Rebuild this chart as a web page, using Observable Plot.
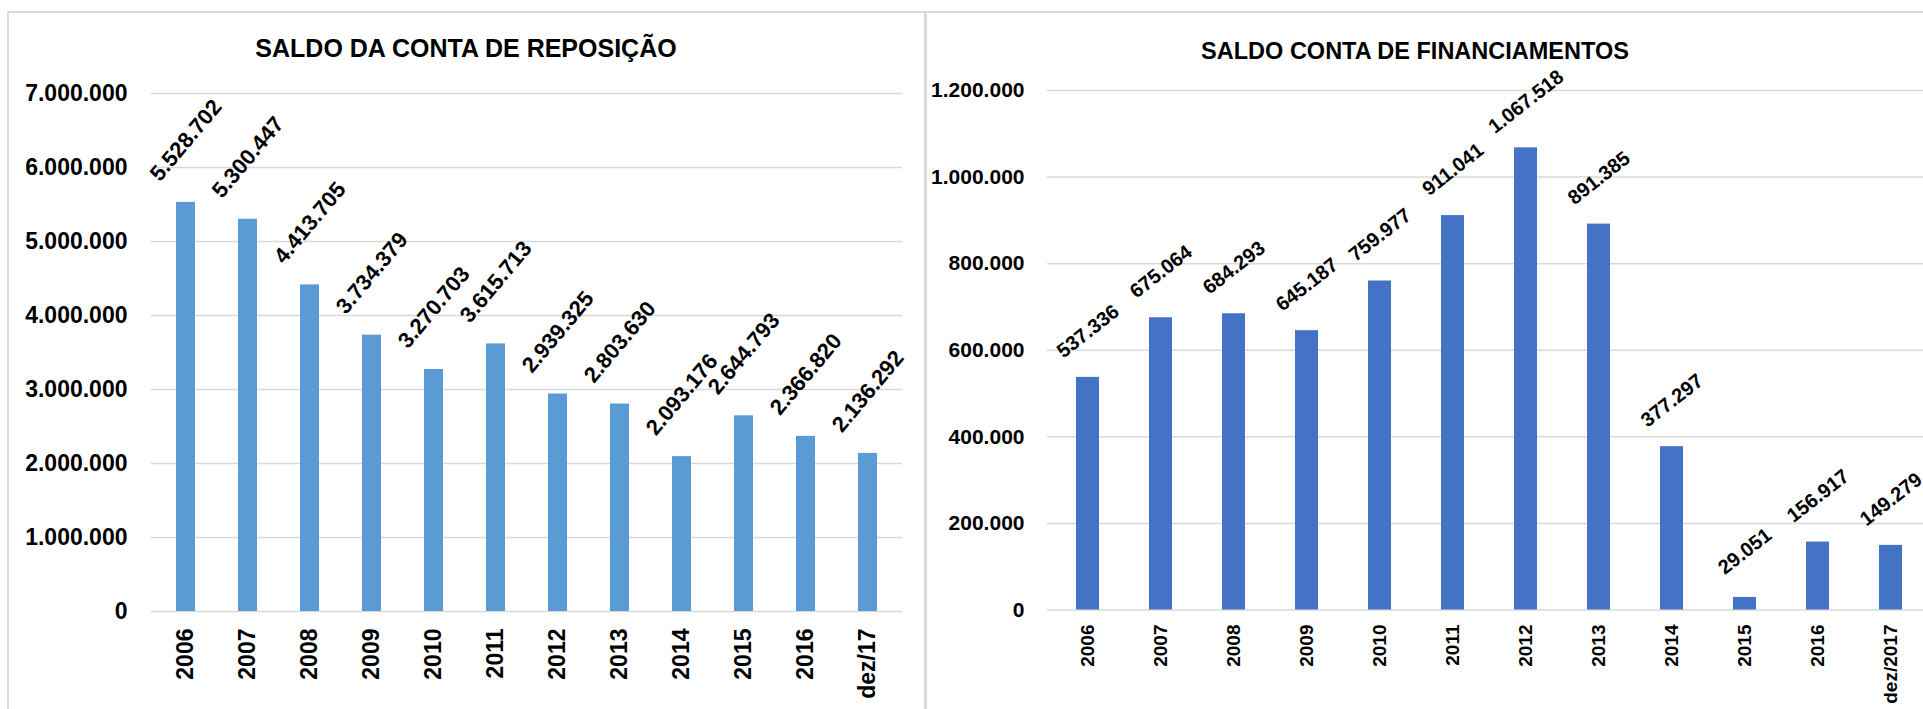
<!DOCTYPE html>
<html>
<head>
<meta charset="utf-8">
<script src="https://cdn.jsdelivr.net/npm/d3@7"></script>
<script src="https://cdn.jsdelivr.net/npm/@observablehq/plot@0.6"></script>
<style>
  html, body { margin: 0; padding: 0; background: #fff; }
  body { width: 1923px; height: 709px; overflow: hidden; position: relative; font-family: "Liberation Sans", Arial, sans-serif; }
  .line { position: absolute; background: #d9d9d9; }
  .title { position: absolute; font-weight: bold; color: #000; white-space: nowrap; transform: translateX(-50%); }
  .chart { position: absolute; top: 0; }
  .chart svg { max-width: none !important; display: block; }
</style>
</head>
<body>
<div class="line" style="left:8px; top:11px; width:1915px; height:2px;"></div>
<div class="line" style="left:7px; top:11px; width:2px; height:698px;"></div>
<div class="line" style="left:924px; top:11px; width:2.5px; height:698px;"></div>
<div class="title" id="t1" style="left:466px; top:36px; font-size:25px; line-height:25px;">SALDO DA CONTA DE REPOSIÇÃO</div>
<div class="title" id="t2" style="left:1415px; top:40px; font-size:23.5px; line-height:23.5px;">SALDO CONTA DE FINANCIAMENTOS</div>
<div class="chart" id="c1" style="left:0px; width:925px;"></div>
<div class="chart" id="c2" style="left:925px; width:1015px;"></div>
<script>
// ---- data ----
const repoCategories = ["2006", "2007", "2008", "2009", "2010", "2011", "2012", "2013", "2014", "2015", "2016", "dez/17"];
const repoValues = [5528702, 5300447, 4413705, 3734379, 3270703, 3615713, 2939325, 2803630, 2093176, 2644793, 2366820, 2136292];
const repoTicks = [0, 1000000, 2000000, 3000000, 4000000, 5000000, 6000000, 7000000];

const finCategories = ["2006", "2007", "2008", "2009", "2010", "2011", "2012", "2013", "2014", "2015", "2016", "dez/2017"];
const finValues = [537336, 675064, 684293, 645187, 759977, 911041, 1067518, 891385, 377297, 29051, 156917, 149279];
const finTicks = [0, 200000, 400000, 600000, 800000, 1000000, 1200000];

const FONT = '"Liberation Sans", Arial, sans-serif';
const fmt = d3.formatLocale({decimal: ",", thousands: ".", grouping: [3], currency: ["R$", ""]}).format(",d");

function chart(o) {
  const data = o.cats.map((c, i) => ({cat: c, val: o.vals[i]}));
  return Plot.plot({
    width: o.width,
    height: 709,
    marginLeft: o.marginLeft,
    marginRight: o.marginRight,
    marginTop: o.marginTop,
    marginBottom: o.marginBottom,
    style: {fontFamily: FONT, color: "#000", background: "transparent", overflow: "visible"},
    x: {type: "band", domain: o.cats, paddingInner: 0.69, paddingOuter: 0.35, align: 0.5, label: null},
    y: {domain: [0, o.ticks[o.ticks.length - 1]], label: null},
    marks: [
      Plot.gridY(o.ticks, {stroke: "#d9d9d9", strokeOpacity: 1, strokeWidth: 1.5}),
      Plot.barY(data, {x: "cat", y: "val", fill: o.color}),
      Plot.axisY(o.ticks, {label: null, tickSize: 0, tickPadding: o.yPad, tickFormat: fmt, fontSize: o.yFont, fontWeight: "bold", fill: "#000"}),
      Plot.axisX({label: null, tickSize: 0, tickPadding: o.xPad, tickRotate: -90, textAnchor: "end", lineAnchor: "middle", fontSize: o.xFont, fontWeight: "bold", fill: "#000"}),
      Plot.text(data, {x: "cat", y: "val", text: d => fmt(d.val), rotate: o.labelRotate, dy: o.labelDy, textAnchor: "middle", lineAnchor: "middle", fontSize: o.labelFont, fontWeight: "bold", fill: "#000"})
    ]
  });
}

document.getElementById("c1").appendChild(chart({
  cats: repoCategories, vals: repoValues, ticks: repoTicks,
  width: 925, marginLeft: 151, marginRight: 23, marginTop: 93, marginBottom: 98,
  color: "#5b9bd5", yFont: 23, yPad: 24, xFont: 23, xPad: 17,
  labelFont: 22, labelRotate: -50, labelDy: -62
}));

document.getElementById("c2").appendChild(chart({
  cats: finCategories, vals: finValues, ticks: finTicks,
  width: 1015, marginLeft: 122, marginRight: 10, marginTop: 90, marginBottom: 99.5,
  color: "#4472c4", yFont: 21, yPad: 23, xFont: 19, xPad: 14.5,
  labelFont: 20, labelRotate: -38, labelDy: -46
}));
</script>
</body>
</html>
